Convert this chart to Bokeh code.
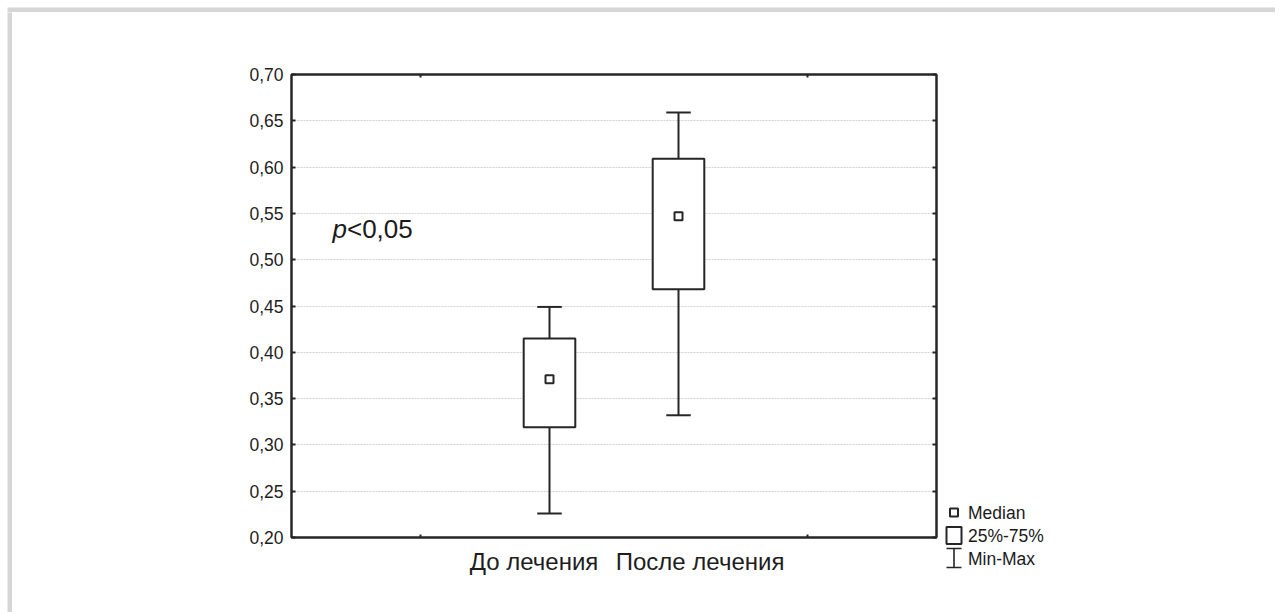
from bokeh.plotting import figure
from bokeh.layouts import row, column
from bokeh.models import (Range1d, LinearAxis, FixedTicker, CustomJSTickFormatter,
                          Label, ColumnDataSource)
from bokeh.embed import file_html
from bokeh.resources import INLINE
from bokeh.core.properties import value

# ---- data ----
categories = ["До лечения", "После лечения"]
mins = [0.226, 0.332]
q1 = [0.319, 0.468]
medians = [0.371, 0.547]
q3 = [0.415, 0.609]
maxs = [0.449, 0.659]
y_ticks = [0.20, 0.25, 0.30, 0.35, 0.40, 0.45, 0.50, 0.55, 0.60, 0.65, 0.70]
p_text = "p<0,05"
legend_labels = ["Median", "25%-75%", "Min-Max"]

# ---- layout constants (page pixels) ----
W, H = 1275, 612
M, S = 7, 5            # white margin and grey strip width
TOP = M + S            # y where main row begins
FL, FR, FT, FB = 291, 936, 74, 537
SPLIT = 940            # x where the legend panel begins
FONT = "Liberation Sans"
INK = "#262626"
GREY = "#d6d6d6"


def blank_fig(w, h, **kw):
    f = figure(width=w, height=h, output_backend="svg", toolbar_location=None,
               x_axis_type=None, y_axis_type=None, frame_align=False, **kw)
    f.outline_line_color = None
    f.border_fill_color = "white"
    return f


# grey page strips (top and left)
top_strip = blank_fig(W, TOP, min_border_top=M, min_border_left=M,
                      min_border_right=0, min_border_bottom=0)
top_strip.background_fill_color = GREY
left_strip = blank_fig(TOP, H - TOP, min_border_left=M, min_border_right=0,
                       min_border_top=0, min_border_bottom=0)
left_strip.background_fill_color = GREY

# ---- main box plot ----
xs = [i + 2 for i in range(len(categories))]
src = ColumnDataSource(dict(
    x=xs, lo=mins, q1=q1, med=medians, q3=q3, hi=maxs,
    left=[x - 0.2 for x in xs], right=[x + 0.2 for x in xs],
    cl=[x - 0.095 for x in xs], cr=[x + 0.095 for x in xs],
))

p = figure(width=SPLIT - TOP, height=H - TOP, output_backend="svg", toolbar_location=None,
           x_range=Range1d(0, 5), y_range=Range1d(0.2, 0.7), frame_align=False,
           min_border_left=FL - TOP, min_border_right=SPLIT - FR,
           min_border_top=FT - TOP, min_border_bottom=H - FB,
           background_fill_color="white", border_fill_color="white")
p.outline_line_color = INK
p.outline_line_width = 2
p.extra_x_ranges = {"px": Range1d(FL, FR)}
p.extra_y_ranges = {"px": Range1d(FB, FT)}

yfmt = CustomJSTickFormatter(code="return tick.toFixed(2).replace('.', ',');")
p.yaxis.ticker = FixedTicker(ticks=y_ticks)
p.yaxis.formatter = yfmt
p.yaxis.major_tick_in = 4
p.yaxis.major_tick_out = 0
p.yaxis.minor_tick_line_color = None
p.yaxis.axis_line_width = 2
p.yaxis.axis_line_color = INK
p.yaxis.major_tick_line_color = INK
p.yaxis.major_tick_line_width = 2
p.yaxis.major_label_text_font = FONT
p.yaxis.major_label_text_font_size = "17.5px"
p.yaxis.major_label_text_color = "#1e1e1e"
p.yaxis.major_label_standoff = 8

# category labels: the two names are pushed apart, so tick labels sit off-centre
label_shift = [-0.12, 0.167]
xfmt = CustomJSTickFormatter(args=dict(cats=categories),
                             code="const i = Math.round(tick) - 2; return (i >= 0 && i < cats.length) ? cats[i] : '';")
p.xaxis.ticker = FixedTicker(ticks=[x + d for x, d in zip(xs, label_shift)], minor_ticks=[1, 4])
p.xaxis.formatter = xfmt
p.xaxis.major_tick_in = 0
p.xaxis.major_tick_out = 0
p.xaxis.minor_tick_in = 3
p.xaxis.minor_tick_out = 0
p.xaxis.minor_tick_line_color = INK
p.xaxis.minor_tick_line_width = 2
p.xaxis.axis_line_width = 2
p.xaxis.axis_line_color = INK
p.xaxis.major_label_text_font = FONT
p.xaxis.major_label_text_font_size = "24px"
p.xaxis.major_label_text_color = "#1e1e1e"
p.xaxis.major_label_standoff = 10

blank = CustomJSTickFormatter(code="return '';")
right_ax = LinearAxis(ticker=FixedTicker(ticks=y_ticks), formatter=blank,
                      major_tick_in=4, major_tick_out=0, minor_tick_line_color=None,
                      axis_line_width=2, axis_line_color=INK,
                      major_tick_line_color=INK, major_tick_line_width=2,
                      major_label_standoff=0)
p.add_layout(right_ax, "right")
top_ax = LinearAxis(ticker=FixedTicker(ticks=[], minor_ticks=[1, 4]), formatter=blank,
                    major_tick_in=0, major_tick_out=0, minor_tick_in=3, minor_tick_out=0,
                    minor_tick_line_color=INK, minor_tick_line_width=2,
                    axis_line_width=2, axis_line_color=INK, major_label_standoff=0)
p.add_layout(top_ax, "above")

p.xgrid.grid_line_color = None
p.ygrid.ticker = FixedTicker(ticks=y_ticks)
p.ygrid.grid_line_color = "#d2d2d2"
p.ygrid.grid_line_dash = "2 1"
p.ygrid.grid_line_width = 1

p.segment(x0="x", y0="lo", x1="x", y1="hi", source=src, line_color=INK, line_width=2)
p.segment(x0="cl", y0="hi", x1="cr", y1="hi", source=src, line_color=INK, line_width=2)
p.segment(x0="cl", y0="lo", x1="cr", y1="lo", source=src, line_color=INK, line_width=2)
p.quad(left="left", right="right", bottom="q1", top="q3", source=src,
       fill_color="white", line_color=INK, line_width=2)
p.scatter(x="x", y="med", source=src, marker="square", size=8,
          fill_color="white", line_color=INK, line_width=2)

PX, PY, PS = 332, 228, 26
p.add_layout(Label(x=PX, y=PY, x_range_name="px", y_range_name="px", text=p_text[0],
                   text_font=FONT, text_font_style="italic", text_font_size=f"{PS}px",
                   text_color="#1a1a1a", text_baseline="alphabetic"))
p.add_layout(Label(x=PX + 0.556 * PS, y=PY, x_range_name="px", y_range_name="px", text=p_text[1:],
                   text_font=FONT, text_font_size=f"{PS}px",
                   text_color="#1a1a1a", text_baseline="alphabetic"))

# ---- legend panel (page-pixel coordinates) ----
q = figure(width=W - SPLIT, height=H - TOP, output_backend="svg", toolbar_location=None,
           x_axis_type=None, y_axis_type=None, frame_align=False,
           x_range=Range1d(SPLIT, W), y_range=Range1d(H, TOP))
q.min_border_left = q.min_border_right = q.min_border_top = q.min_border_bottom = 0
q.outline_line_color = None
q.xgrid.visible = False
q.ygrid.visible = False

LX, LY, LS = 953.5, 512, 23
q.scatter(x=[LX], y=[LY], marker="square", size=8, fill_color="white",
          line_color=INK, line_width=2)
q.quad(left=[LX - 7.5], right=[LX + 7.5], top=[LY + LS - 8.5], bottom=[LY + LS + 8.5],
       fill_color="white", line_color=INK, line_width=2)
yb = LY + 2 * LS
q.segment(x0=[LX - 7.5, LX, LX - 7.5], y0=[yb - 10, yb - 10, yb + 9],
          x1=[LX + 7.5, LX, LX + 7.5], y1=[yb - 10, yb + 9, yb + 9],
          line_color=INK, line_width=1.6)
q.text(x=[LX + 14] * len(legend_labels), y=[LY + k * LS for k in range(len(legend_labels))],
       text=legend_labels, text_font=value(FONT), text_font_size="17.5px",
       text_color="#1a1a1a", text_baseline="middle")

page = column(top_strip, row(left_strip, p, q))
open("out.html", "w").write(file_html(page, INLINE))
